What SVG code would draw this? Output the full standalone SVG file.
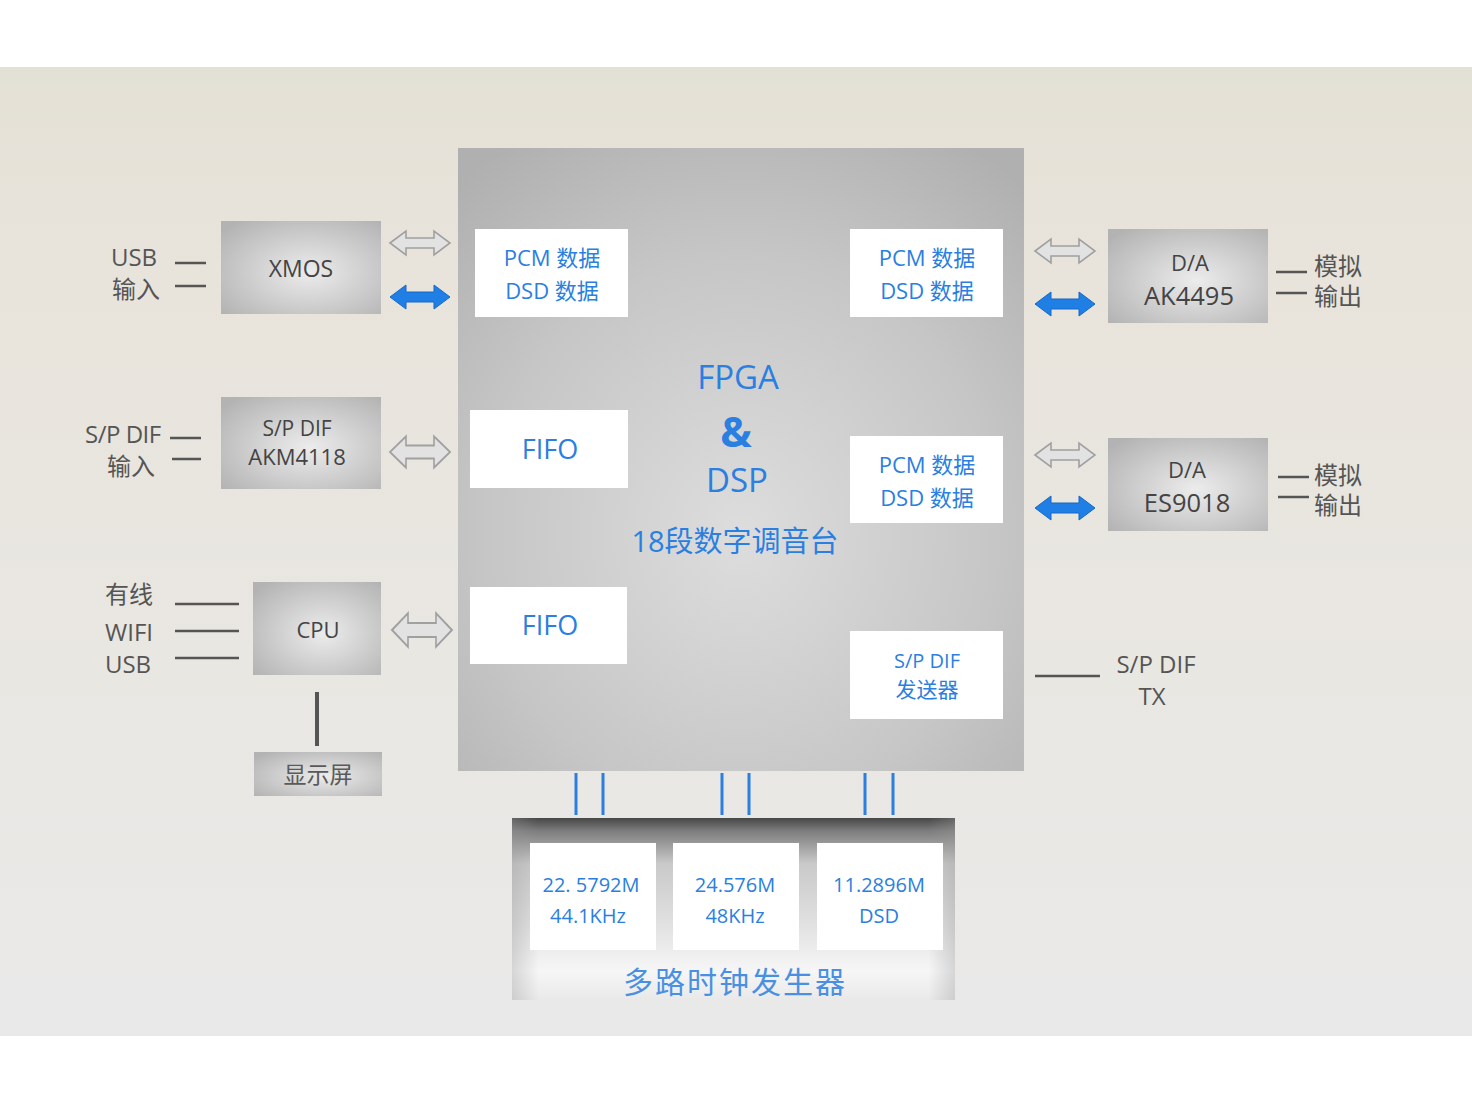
<svg xmlns="http://www.w3.org/2000/svg" width="1472" height="1104" viewBox="0 0 1472 1104">
<defs>
<linearGradient id="bg" x1="0" y1="0" x2="0" y2="1">
<stop offset="0" stop-color="#e3e0d5"/>
<stop offset="0.15" stop-color="#e8e3da"/>
<stop offset="0.6" stop-color="#e9e7e2"/>
<stop offset="1" stop-color="#e9e9e9"/>
</linearGradient>
<radialGradient id="chip" cx="0.55" cy="0.55" r="0.7">
<stop offset="0" stop-color="#ececec"/>
<stop offset="1" stop-color="#b3b3b3"/>
</radialGradient>
<radialGradient id="fpga" cx="0.5" cy="0.62" r="0.75">
<stop offset="0" stop-color="#dddddd"/>
<stop offset="0.6" stop-color="#c6c6c6"/>
<stop offset="1" stop-color="#b0b0b0"/>
</radialGradient>
<linearGradient id="clk" x1="0" y1="0" x2="0" y2="1">
<stop offset="0" stop-color="#474747"/>
<stop offset="0.07" stop-color="#7c7c7c"/>
<stop offset="0.25" stop-color="#c9c9c9"/>
<stop offset="0.6" stop-color="#e2e2e2"/>
<stop offset="0.84" stop-color="#f6f6f6"/>
<stop offset="1" stop-color="#e9e9e9"/>
</linearGradient>
<linearGradient id="clkside" x1="0" y1="0" x2="1" y2="0">
<stop offset="0" stop-color="#9a9a9a" stop-opacity="0.35"/>
<stop offset="0.06" stop-color="#9a9a9a" stop-opacity="0"/>
<stop offset="0.94" stop-color="#9a9a9a" stop-opacity="0"/>
<stop offset="1" stop-color="#9a9a9a" stop-opacity="0.35"/>
</linearGradient>
<path id="dbl" d="M-30,0 L-14,-12 L-14,-5 L14,-5 L14,-12 L30,0 L14,12 L14,5 L-14,5 L-14,12 Z"/>
</defs>
<style>
.t{font-family:"Open Sans","Noto Sans CJK SC",sans-serif;}
.lbl{fill:#555555;font-size:24px;}
.dark{fill:#444444;}
.blue{fill:#2a7fe0;}
.wbox{fill:#ffffff;}
.ln{stroke:#555555;stroke-width:2.5;fill:none;}
.garrow{fill:#e2e2e2;stroke:#a0a0a0;stroke-width:1.6;}
.barrow{fill:#1f7fe5;stroke:#1769c4;stroke-width:1;}
.bl{stroke:#2a7fe0;stroke-width:3;}
</style>

<rect x="0" y="0" width="1472" height="1104" fill="#ffffff"/>
<rect x="0" y="67" width="1472" height="969" fill="url(#bg)"/>

<g id="fpga">
<rect x="458" y="148" width="566" height="623" fill="url(#fpga)"/>
<text class="t blue" x="738" y="389" font-size="33" text-anchor="middle">FPGA</text>
<text class="t blue" x="736" y="447" font-size="42" font-weight="bold" text-anchor="middle">&amp;</text>
<text class="t blue" x="737" y="492" font-size="33" text-anchor="middle">DSP</text>
<text class="t blue" x="735" y="552" font-size="29" text-anchor="middle">18段数字调音台</text>
</g>

<g id="pcm-in">
<rect class="wbox" x="475" y="229" width="153" height="88"/>
<text class="t blue" x="552" y="266" font-size="22" text-anchor="middle">PCM 数据</text>
<text class="t blue" x="552" y="299" font-size="22" text-anchor="middle">DSD 数据</text>
</g>
<g id="fifo1">
<rect class="wbox" x="470" y="410" width="158" height="78"/>
<text class="t blue" x="550" y="459" font-size="27" text-anchor="middle">FIFO</text>
</g>
<g id="fifo2">
<rect class="wbox" x="470" y="587" width="157" height="77"/>
<text class="t blue" x="550" y="635" font-size="27" text-anchor="middle">FIFO</text>
</g>
<g id="pcm-out1">
<rect class="wbox" x="850" y="229" width="153" height="88"/>
<text class="t blue" x="927" y="266" font-size="22" text-anchor="middle">PCM 数据</text>
<text class="t blue" x="927" y="299" font-size="22" text-anchor="middle">DSD 数据</text>
</g>
<g id="pcm-out2">
<rect class="wbox" x="850" y="436" width="153" height="87"/>
<text class="t blue" x="927" y="473" font-size="22" text-anchor="middle">PCM 数据</text>
<text class="t blue" x="927" y="506" font-size="22" text-anchor="middle">DSD 数据</text>
</g>
<g id="spdif-tx-block">
<rect class="wbox" x="850" y="631" width="153" height="88"/>
<text class="t blue" x="927" y="668" font-size="20" text-anchor="middle">S/P DIF</text>
<text class="t blue" x="927" y="697" font-size="21" text-anchor="middle">发送器</text>
</g>

<g id="xmos">
<rect x="221" y="221" width="160" height="93" fill="url(#chip)"/>
<text class="t dark" x="301" y="277" font-size="23" text-anchor="middle">XMOS</text>
</g>
<g id="akm4118">
<rect x="221" y="397" width="160" height="92" fill="url(#chip)"/>
<text class="t dark" x="297" y="436" font-size="21" text-anchor="middle">S/P DIF</text>
<text class="t dark" x="297" y="465" font-size="22" text-anchor="middle">AKM4118</text>
</g>
<g id="cpu">
<rect x="253" y="582" width="128" height="93" fill="url(#chip)"/>
<text class="t dark" x="318" y="638" font-size="22" text-anchor="middle">CPU</text>
</g>
<g id="display">
<rect x="254" y="752" width="128" height="44" fill="url(#chip)"/>
<text class="t" fill="#5a5a5a" x="318" y="783" font-size="23" text-anchor="middle">显示屏</text>
</g>
<g id="ak4495">
<rect x="1108" y="229" width="160" height="94" fill="url(#chip)"/>
<text class="t dark" x="1190" y="271" font-size="22" text-anchor="middle">D/A</text>
<text class="t dark" x="1189" y="305" font-size="25.5" text-anchor="middle">AK4495</text>
</g>
<g id="es9018">
<rect x="1108" y="438" width="160" height="93" fill="url(#chip)"/>
<text class="t dark" x="1187" y="478" font-size="22" text-anchor="middle">D/A</text>
<text class="t dark" x="1187" y="512" font-size="25.5" text-anchor="middle">ES9018</text>
</g>

<g id="clock-gen">
<rect x="512" y="818" width="443" height="182" fill="url(#clk)"/>
<rect x="512" y="818" width="443" height="182" fill="url(#clkside)"/>
<rect class="wbox" x="530" y="843" width="126" height="107"/>
<rect class="wbox" x="673" y="843" width="126" height="107"/>
<rect class="wbox" x="817" y="843" width="126" height="107"/>
<text class="t blue" x="591" y="892" font-size="20" text-anchor="middle">22. 5792M</text>
<text class="t blue" x="588" y="923" font-size="20" text-anchor="middle">44.1KHz</text>
<text class="t blue" x="735" y="892" font-size="20" text-anchor="middle">24.576M</text>
<text class="t blue" x="735" y="923" font-size="20" text-anchor="middle">48KHz</text>
<text class="t blue" x="879" y="892" font-size="20" text-anchor="middle">11.2896M</text>
<text class="t blue" x="879" y="923" font-size="20" text-anchor="middle">DSD</text>
<text class="t" fill="#4a90e2" x="735" y="993" font-size="30" letter-spacing="2" text-anchor="middle">多路时钟发生器</text>
</g>

<g id="labels">
<text class="t lbl" x="134" y="266" text-anchor="middle">USB</text>
<text class="t lbl" x="136" y="298" text-anchor="middle">输入</text>
<text class="t lbl" x="85" y="443" letter-spacing="-0.5">S/P DIF</text>
<text class="t lbl" x="131" y="475" text-anchor="middle">输入</text>
<text class="t lbl" x="129" y="603" text-anchor="middle">有线</text>
<text class="t lbl" x="129" y="641" text-anchor="middle">WIFI</text>
<text class="t lbl" x="128" y="673" text-anchor="middle">USB</text>
<text class="t lbl" x="1314" y="275">模拟</text>
<text class="t lbl" x="1314" y="305">输出</text>
<text class="t lbl" x="1314" y="484">模拟</text>
<text class="t lbl" x="1314" y="514">输出</text>
<text class="t lbl" x="1156" y="673" font-size="23" text-anchor="middle">S/P DIF</text>
<text class="t lbl" x="1152" y="705" font-size="23" text-anchor="middle">TX</text>
</g>

<g id="connectors">
<line class="ln" x1="175" y1="263" x2="206" y2="263"/>
<line class="ln" x1="175" y1="286" x2="206" y2="286"/>
<line class="ln" x1="170" y1="438" x2="201" y2="438"/>
<line class="ln" x1="172" y1="459" x2="201" y2="459"/>
<line class="ln" x1="175" y1="604" x2="239" y2="604"/>
<line class="ln" x1="175" y1="631" x2="239" y2="631"/>
<line class="ln" x1="175" y1="658" x2="239" y2="658"/>
<line stroke="#555555" stroke-width="4" x1="317" y1="692" x2="317" y2="746"/>
<line class="ln" x1="1276" y1="272" x2="1307" y2="272"/>
<line class="ln" x1="1276" y1="293" x2="1307" y2="293"/>
<line class="ln" x1="1278" y1="477" x2="1309" y2="477"/>
<line class="ln" x1="1278" y1="497" x2="1309" y2="497"/>
<line class="ln" x1="1035" y1="676" x2="1100" y2="676"/>
<use href="#dbl" class="garrow" transform="translate(420,243)"/>
<use href="#dbl" class="barrow" transform="translate(420,297)"/>
<use href="#dbl" class="garrow" transform="translate(420,452) scale(1,1.3)"/>
<use href="#dbl" class="garrow" transform="translate(422,630) scale(1,1.4)"/>
<use href="#dbl" class="garrow" transform="translate(1065,251)"/>
<use href="#dbl" class="barrow" transform="translate(1065,304)"/>
<use href="#dbl" class="garrow" transform="translate(1065,455)"/>
<use href="#dbl" class="barrow" transform="translate(1065,508)"/>
<line class="bl" x1="576" y1="773" x2="576" y2="815"/>
<line class="bl" x1="603" y1="773" x2="603" y2="815"/>
<line class="bl" x1="722" y1="773" x2="722" y2="815"/>
<line class="bl" x1="749" y1="773" x2="749" y2="815"/>
<line class="bl" x1="865" y1="773" x2="865" y2="815"/>
<line class="bl" x1="893" y1="773" x2="893" y2="815"/>
</g>
</svg>
